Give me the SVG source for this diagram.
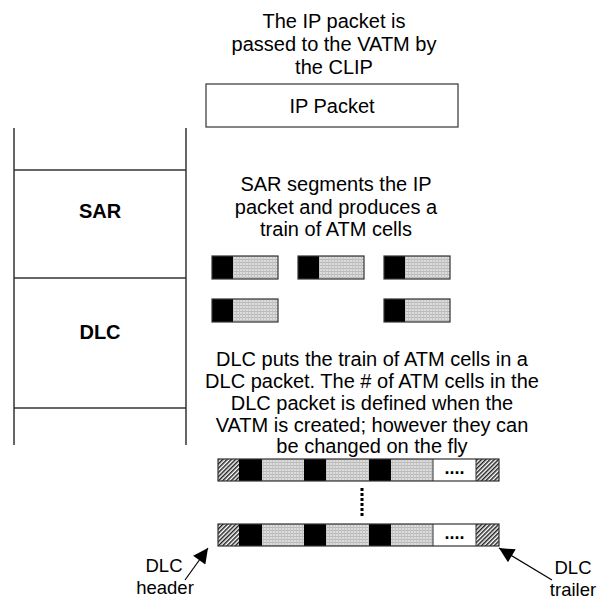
<svg xmlns="http://www.w3.org/2000/svg" width="597" height="599" viewBox="0 0 597 599">
<style>
text{font-family:"Liberation Sans",Arial,sans-serif;fill:#000}
.t{font-size:20px;text-anchor:middle}
.b{font-size:20px;font-weight:bold;text-anchor:middle}
.l{font-size:18.5px;text-anchor:middle}
.ln{stroke:#333;stroke-width:1.5;fill:none}
.box{fill:none;stroke:#333;stroke-width:1.2}
.blk{fill:#000}
.gry{fill:url(#grid)}
.hat{fill:url(#hatch)}
.wht{fill:#fff}
.out{fill:none;stroke:#333;stroke-width:1.2}
</style>
<defs>
<pattern id="grid" width="3" height="3" patternUnits="userSpaceOnUse">
<rect width="3" height="3" fill="#dcdcdc"/>
<rect width="3" height="1" fill="#b8b8b8"/>
<rect width="1" height="3" fill="#c4c4c4"/>
</pattern>
<pattern id="hatch" width="3" height="3" patternUnits="userSpaceOnUse" patternTransform="rotate(45)">
<rect width="3" height="3" fill="#fff"/>
<rect width="1.5" height="3" fill="#222"/>
</pattern>
<marker id="ah" viewBox="0 0 10 10" refX="10" refY="5" markerWidth="18" markerHeight="15" markerUnits="userSpaceOnUse" orient="auto">
<path d="M0,0 L10,5 L0,10 z" fill="#000"/>
</marker>
<g id="cell">
<rect x="0" y="0" width="21" height="23" class="blk"/>
<rect x="21" y="0" width="45" height="23" class="gry"/>
<rect x="0" y="0" width="66" height="23" class="out"/>
</g>
<g id="train">
<rect x="0" y="0" width="21" height="22" class="hat"/>
<rect x="21" y="0" width="23" height="22" class="blk"/>
<rect x="44" y="0" width="42" height="22" class="gry"/>
<rect x="86" y="0" width="22" height="22" class="blk"/>
<rect x="108" y="0" width="43" height="22" class="gry"/>
<rect x="151" y="0" width="22" height="22" class="blk"/>
<rect x="173" y="0" width="42" height="22" class="gry"/>
<rect x="215" y="0" width="43" height="22" class="wht"/>
<rect x="258" y="0" width="23" height="22" class="hat"/>
<rect x="0" y="0" width="281" height="22" class="out"/>
<line x1="215" y1="0" x2="215" y2="22" stroke="#333" stroke-width="1"/>
<line x1="258" y1="0" x2="258" y2="22" stroke="#333" stroke-width="1"/>
<text x="236.5" y="15" style="font-size:18px;font-weight:bold;text-anchor:middle">....</text>
</g>
</defs>

<g id="title">
<text class="t" x="334" y="28">The IP packet is</text>
<text class="t" x="334" y="51">passed to the VATM by</text>
<text class="t" x="334" y="74">the CLIP</text>
</g>

<g id="ip-packet">
<rect x="206" y="84" width="252" height="43" class="box"/>
<text class="t" x="332" y="113">IP Packet</text>
</g>

<g id="stack">
<line x1="14" y1="128" x2="14" y2="445" class="ln"/>
<line x1="186" y1="128" x2="186" y2="445" class="ln"/>
<line x1="14" y1="170" x2="186" y2="170" class="ln"/>
<line x1="14" y1="278" x2="186" y2="278" class="ln"/>
<line x1="14" y1="408" x2="186" y2="408" class="ln"/>
</g>
<g id="sar-layer"><text class="b" x="100" y="218">SAR</text></g>
<g id="dlc-layer"><text class="b" x="100" y="339">DLC</text></g>

<g id="sar-text">
<text class="t" x="336" y="191">SAR segments the IP</text>
<text class="t" x="336" y="213.5">packet and produces a</text>
<text class="t" x="336" y="236">train of ATM cells</text>
</g>

<g id="cells">
<use href="#cell" x="212" y="256"/>
<use href="#cell" x="298" y="256"/>
<use href="#cell" x="384" y="256"/>
<use href="#cell" x="212" y="299"/>
<use href="#cell" x="384" y="299"/>
</g>

<g id="dlc-text">
<text class="t" x="372" y="366">DLC puts the train of ATM cells in a</text>
<text class="t" x="372" y="388">DLC packet. The # of ATM cells in the</text>
<text class="t" x="372" y="410">DLC packet is defined when the</text>
<text class="t" x="372" y="432">VATM is created; however  they can</text>
<text class="t" x="372" y="453">be changed on the fly</text>
</g>

<g id="train-1"><use href="#train" x="218" y="459"/></g>
<g id="train-2"><use href="#train" x="218" y="524"/></g>

<g id="header-label">
<text class="l" x="164" y="572">DLC</text>
<text class="l" x="165" y="594">header</text>
</g>
<g id="trailer-label">
<text class="l" x="573" y="574">DLC</text>
<text class="l" x="573" y="596">trailer</text>
</g>

<g id="connectors">
<line x1="362" y1="488" x2="362" y2="516" stroke="#000" stroke-width="3" stroke-dasharray="3 2"/>
<line x1="185" y1="580" x2="208" y2="548" stroke="#000" stroke-width="1.2" marker-end="url(#ah)"/>
<line x1="552" y1="580" x2="499" y2="548" stroke="#000" stroke-width="1.2" marker-end="url(#ah)"/>
</g>
</svg>
